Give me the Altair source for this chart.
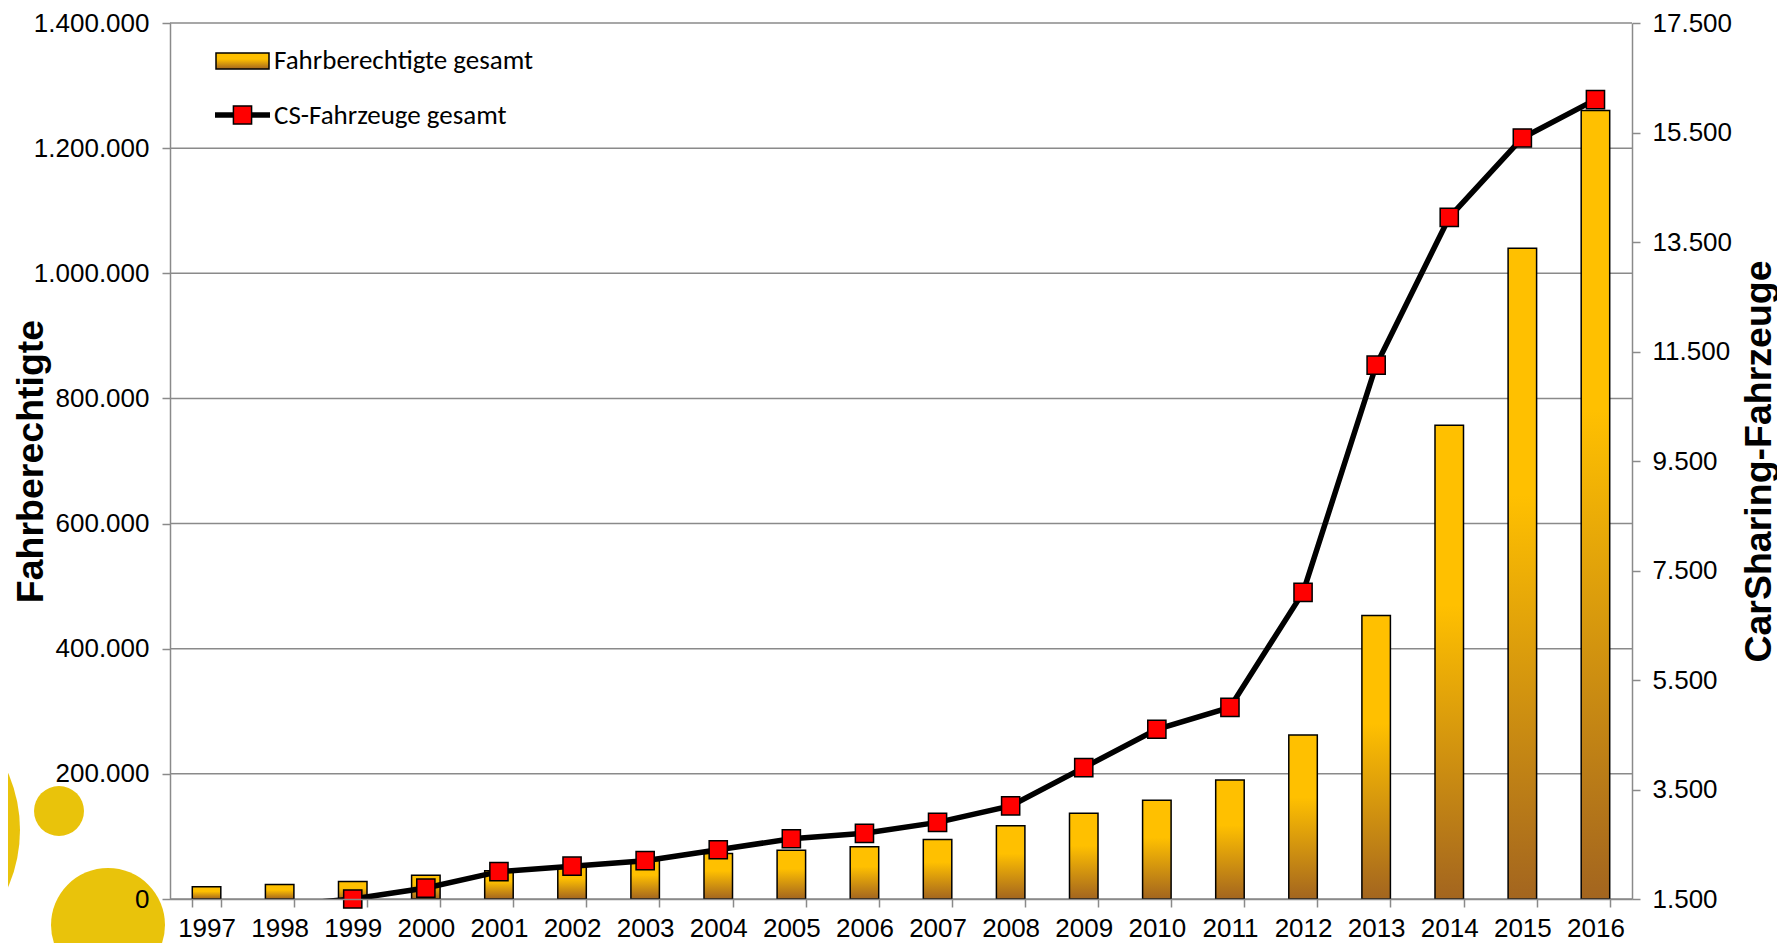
import altair as alt
import pandas as pd

# ---- data ----
years = [1997, 1998, 1999, 2000, 2001, 2002, 2003, 2004, 2005, 2006,
         2007, 2008, 2009, 2010, 2011, 2012, 2013, 2014, 2015, 2016]
fahrberechtigte = [19700, 23300, 28000, 38000, 45000, 53000, 61500, 72600, 78000, 83400,
                   95000, 117000, 137000, 158000, 190000, 262000, 453000, 757000, 1040000, 1260000]

fz_years = [1998, 1999, 2000, 2001, 2002, 2003, 2004, 2005, 2006, 2007,
            2008, 2009, 2010, 2011, 2012, 2013, 2014, 2015, 2016]
fahrzeuge = [1380, 1500, 1700, 2000, 2100, 2200, 2400, 2600, 2700, 2900,
             3200, 3900, 4600, 5000, 7100, 11250, 13950, 15400, 16100]

left_ticks = [0, 200000, 400000, 600000, 800000, 1000000, 1200000, 1400000]
right_ticks = [1500, 3500, 5500, 7500, 9500, 11500, 13500, 15500, 17500]

legend_labels = ["Fahrberechtigte gesamt", "CS-Fahrzeuge gesamt"]

df_bars = pd.DataFrame({"Jahr": years, "Fahrberechtigte": fahrberechtigte})
df_grid = pd.DataFrame({"Fahrberechtigte": left_ticks})
df_line = pd.DataFrame({"Jahr": fz_years, "Fahrzeuge": fahrzeuge})
df_pts = df_line[df_line["Jahr"] >= 1999]

FONT = "Liberation Sans"
LFONT = "Carlito, Lato"
GRAY = "#8a8a8a"
DE_FMT = "replace(format(datum.value, ',d'), /,/g, '.')"

gold = alt.Gradient(
    gradient="linear",
    stops=[alt.GradientStop(color="#FFC000", offset=0),
           alt.GradientStop(color="#FFC000", offset=0.38),
           alt.GradientStop(color="#A3651F", offset=1)],
    x1=0, x2=0, y1=0, y2=1,
)

x_enc = alt.X(
    "Jahr:O",
    scale=alt.Scale(paddingInner=0.61, paddingOuter=0.305),
    axis=alt.Axis(title=None, labelAngle=0, labelFont=FONT, labelFontSize=26,
                  labelColor="black", tickBand="extent", tickSize=8, tickWidth=1.5,
                  tickColor=GRAY, domainColor=GRAY, domainWidth=1.5, labelPadding=8,
                  grid=False, zindex=1),
)

left_scale = alt.Scale(domain=[0, 1400000], nice=False)

y_left = alt.Y(
    "Fahrberechtigte:Q",
    scale=left_scale,
    axis=alt.Axis(values=left_ticks, labelExpr=DE_FMT, labelFont=FONT, labelFontSize=26,
                  labelColor="black", labelPadding=13, tickSize=8, tickWidth=1.5,
                  tickColor=GRAY, domainColor=GRAY, domainWidth=1.5,
                  grid=False, zindex=1,
                  title="Fahrberechtigte", titleFont=FONT, titleFontSize=37.5,
                  titleFontWeight="bold", titleColor="black", titleAngle=270,
                  titleX=-139, titleY=438, titleAlign="center", titleBaseline="middle"),
)

right_scale = alt.Scale(domain=[1500, 17500], nice=False)

y_right = alt.Y(
    "Fahrzeuge:Q",
    scale=right_scale,
    axis=alt.Axis(orient="right", values=right_ticks, labelExpr=DE_FMT, labelFont=FONT,
                  labelFontSize=26, labelColor="black", labelPadding=12, tickSize=8,
                  tickWidth=1.5, tickColor=GRAY, domainColor=GRAY, domainWidth=1.5,
                  grid=False, zindex=1,
                  title="CarSharing-Fahrzeuge", titleFont=FONT, titleFontSize=37.5,
                  titleFontWeight="bold", titleColor="black", titleAngle=270,
                  titleX=127, titleY=438, titleAlign="center", titleBaseline="middle"),
)

# decorative circles (bottom-left); Vega symbol size = (diameter)^2
one = pd.DataFrame({"k": [0]})
CIRC = "#E9C30B"
circ_big = alt.Chart(one).mark_circle(color=CIRC, opacity=1, size=81796).encode(
    x=alt.value(-293), y=alt.value(807))
circ_small = alt.Chart(one).mark_circle(color=CIRC, opacity=1, size=2500).encode(
    x=alt.value(-111), y=alt.value(788))
circ_bottom = alt.Chart(one).mark_circle(color=CIRC, opacity=1, size=12996).encode(
    x=alt.value(-62), y=alt.value(902))

grid = alt.Chart(df_grid).mark_rule(color=GRAY, strokeWidth=1.5).encode(y=y_left)
bars = alt.Chart(df_bars).mark_bar(fill=gold, stroke="black", strokeWidth=1.5).encode(
    x=x_enc, y=y_left)
left = alt.layer(grid, bars)

line = alt.Chart(df_line).mark_line(color="black", strokeWidth=5.5, clip=True).encode(
    x=alt.X("Jahr:O"), y=y_right)
pts = alt.Chart(df_pts).mark_square(color="#FF0000", opacity=1, stroke="black",
                                     strokeWidth=1.5, size=330).encode(
    x=alt.X("Jahr:O"), y=y_right)
cs = alt.layer(line, pts)

# legend drawn by hand
leg1 = pd.DataFrame({"t": [legend_labels[0]]})
leg2 = pd.DataFrame({"t": [legend_labels[1]]})
leg_rect = alt.Chart(leg1).mark_rect(fill=gold, stroke="black", strokeWidth=1.5).encode(
    x=alt.value(46), x2=alt.value(99), y=alt.value(30), y2=alt.value(46))
leg_text1 = alt.Chart(leg1).mark_text(align="left", baseline="middle", font=LFONT,
                                      fontSize=27, color="black").encode(
    x=alt.value(104), y=alt.value(38), text="t:N")
leg_rule = alt.Chart(leg2).mark_rule(color="black", strokeWidth=5.5).encode(
    x=alt.value(45), x2=alt.value(100), y=alt.value(92))
leg_sq = alt.Chart(leg2).mark_square(color="#FF0000", opacity=1, stroke="black",
                                     strokeWidth=1.5, size=330).encode(
    x=alt.value(72.5), y=alt.value(92))
leg_text2 = alt.Chart(leg2).mark_text(align="left", baseline="middle", font=LFONT,
                                      fontSize=27, color="black").encode(
    x=alt.value(104), y=alt.value(93), text="t:N")

chart = alt.layer(
    circ_big, circ_small, circ_bottom, left, cs,
    leg_rect, leg_text1, leg_rule, leg_sq, leg_text2,
).resolve_scale(y="independent").properties(
    width=1462, height=876,
    autosize=alt.AutoSizeParams(type="none"),
    padding={"left": 162, "top": 15, "right": 145, "bottom": 44},
    background="white",
).configure_view(stroke=None)

chart.save("out.html", embed_options={"renderer": "svg", "actions": False})
